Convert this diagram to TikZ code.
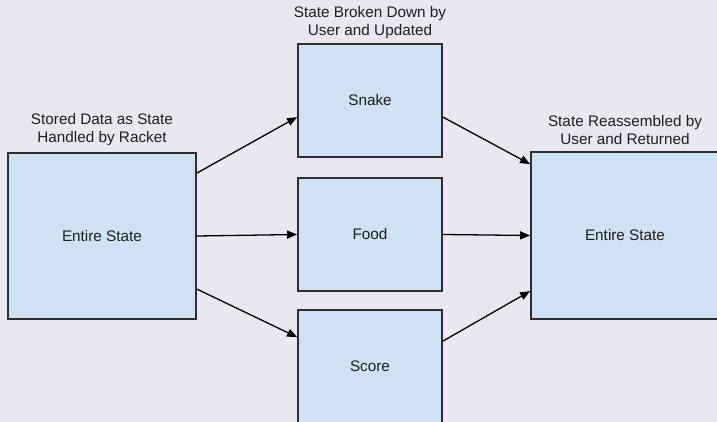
\documentclass[tikz,border=0pt]{standalone}
\usepackage{fontspec}
\setmainfont{Liberation Sans}
\usetikzlibrary{arrows.meta}
\definecolor{bgcol}{HTML}{E9E8F2}
\definecolor{boxfill}{HTML}{CFE2F3}
\definecolor{boxline}{HTML}{2E2E2E}
\definecolor{inkcol}{HTML}{1E1E1E}
\begin{document}
\begin{tikzpicture}[x=1pt,y=-1pt,
  every node/.style={font=\fontsize{15.3}{18}\selectfont, text=inkcol},
  statebox/.style={draw=boxline, line width=1.8pt, fill=boxfill, inner sep=0pt},
  caption/.style={align=center, inner sep=0pt},
  flow/.style={draw=black, line width=1.3pt, -{Triangle[length=10pt,width=8pt]}}]
  % canvas
  \fill[bgcol] (0,0) rectangle (717,422);
  \useasboundingbox (0,0) rectangle (717,422);

  % state boxes
  \node[statebox, minimum width=188pt, minimum height=166pt] (full) at (102,236) {Entire State};
  \node[statebox, minimum width=144pt, minimum height=113pt] (snake) at (370,100.5) {Snake};
  \node[statebox, minimum width=144pt, minimum height=113pt] (food) at (370,234.5) {Food};
  \node[statebox, minimum width=144pt, minimum height=113pt] (score) at (370,366.5) {Score};
  \node[statebox, minimum width=188pt, minimum height=167pt] (back) at (625,235.5) {Entire State};

  % captions
  \node[caption] (capleft) at (102,130) {Stored Data as State\\Handled by Racket};
  \node[caption] (capmid) at (370,23) {State Broken Down by\\User and Updated};
  \node[caption] (capright) at (625,130) {State Reassembled by\\User and Returned};

  % splitting the state
  \draw[flow] ([yshift=-21pt]full.north east) -- ([yshift=-74pt]snake.north west);
  \draw[flow] (full.east) -- (food.west);
  \draw[flow] ([yshift=-137pt]full.north east) -- ([yshift=-28pt]score.north west);

  % reassembling the state
  \draw[flow] ([yshift=-74pt]snake.north east) -- ([yshift=-13pt]back.north west);
  \draw[flow] (food.east) -- (back.west);
  \draw[flow] ([yshift=-32pt]score.north east) -- ([yshift=-140pt]back.north west);
\end{tikzpicture}
\end{document}
